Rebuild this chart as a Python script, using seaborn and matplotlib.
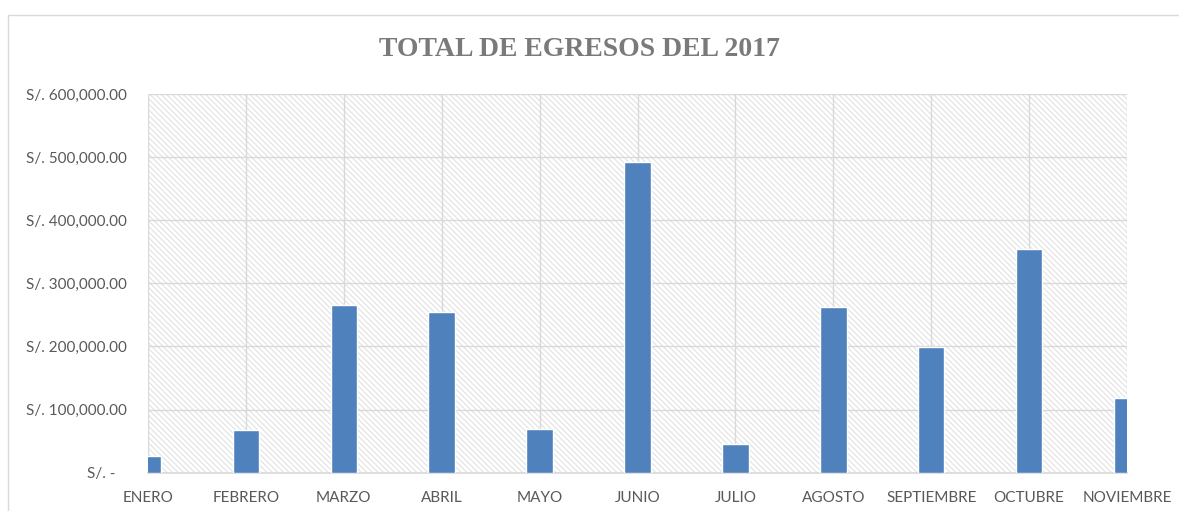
import numpy as np
import pandas as pd
import seaborn as sns
import matplotlib.pyplot as plt
from matplotlib.patches import Rectangle
from matplotlib.ticker import FuncFormatter

meses = ['ENERO', 'FEBRERO', 'MARZO', 'ABRIL', 'MAYO', 'JUNIO',
         'JULIO', 'AGOSTO', 'SEPTIEMBRE', 'OCTUBRE', 'NOVIEMBRE']
egresos = [27000, 68000, 265000, 255000, 70000, 493000,
           46000, 263000, 199000, 354000, 118000]

df = pd.DataFrame({'mes': meses, 'egreso': egresos})

sns.set_style('white')
plt.rcParams['font.family'] = ['Lato', 'DejaVu Sans']
plt.rcParams['hatch.linewidth'] = 0.7

fig = plt.figure(figsize=(11.79, 5.11), dpi=100)
ax = fig.add_axes([148/1179, 1-472.7/511, (1127-148)/1179, (472.7-94)/511])

# fondo rayado tipo excel
ax.patch.set_facecolor('white')
ax.add_patch(Rectangle((0, 0), 1, 1, transform=ax.transAxes, facecolor='white',
                       edgecolor='#dedede', hatch='\\\\\\\\\\\\', lw=0, zorder=0))

sns.barplot(data=df, x='mes', y='egreso', color='#4F81BD', width=0.27,
            saturation=1, ax=ax, zorder=3)

ax.set_xlim(0, len(meses) - 1)
ax.set_ylim(0, 600000)
ax.set_yticks(np.arange(0, 600001, 100000))

def soles(v, pos):
    if v == 0:
        return 'S/. -   '
    return 'S/. {:,.2f}'.format(v)

ax.yaxis.set_major_formatter(FuncFormatter(soles))
ax.grid(True, color='#d9d9d9', lw=1, zorder=1)
ax.set_axisbelow(True)
for s in ['left', 'right', 'top']:
    ax.spines[s].set_visible(False)
ax.spines['bottom'].set_color('#d9d9d9')
ax.spines['bottom'].set_linewidth(1.2)
ax.tick_params(axis='both', length=0, labelsize=11, colors='#595959')
ax.tick_params(axis='y', pad=15)
ax.tick_params(axis='x', pad=13)
ax.set_xlabel('')
ax.set_ylabel('')

# borde del grafico
fig.patches.append(Rectangle((8/1179, -0.1), 1.1, 1.1 - 14.5/511,
                             transform=fig.transFigure, fill=False,
                             edgecolor='#d9d9d9', lw=1))

fig.text(579/1179, 1-49/511, 'TOTAL DE EGRESOS DEL 2017', ha='center', va='center',
         fontsize=20, fontweight='bold', color='#7a7a7a',
         family=['Liberation Serif', 'DejaVu Serif'])

fig.savefig('out.png', dpi=100)
